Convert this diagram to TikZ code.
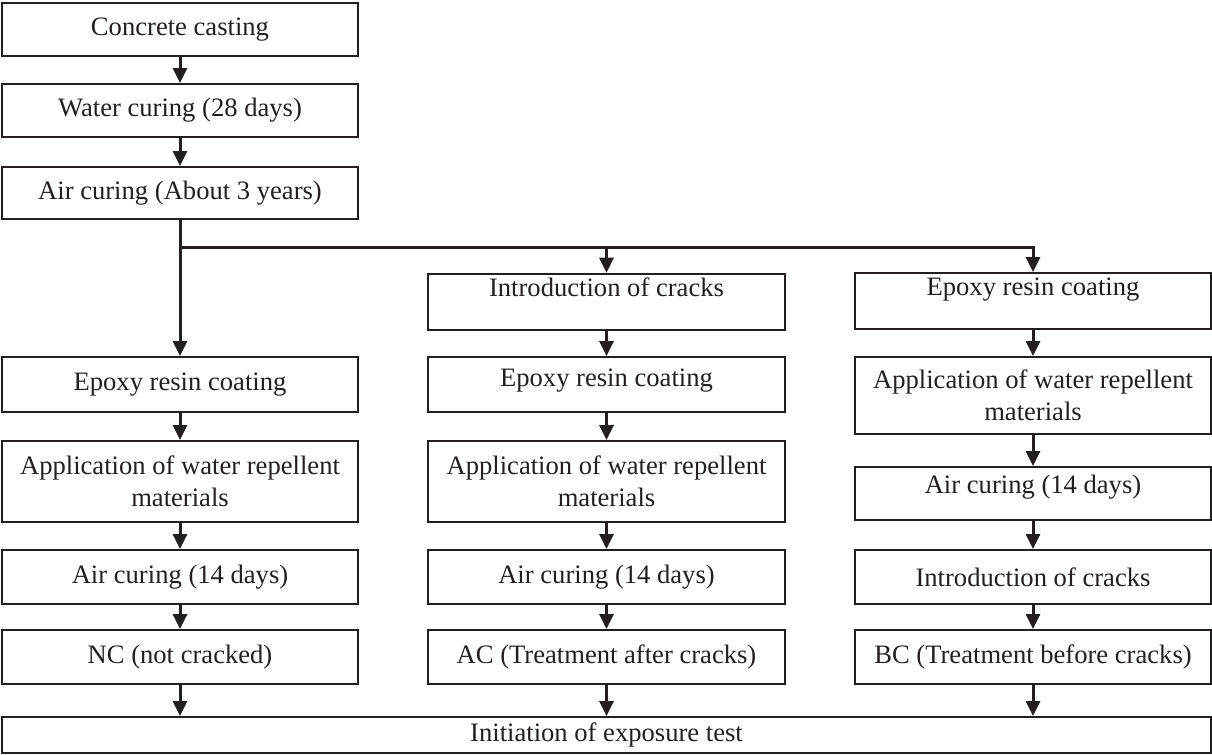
\documentclass[tikz,border=0pt]{standalone}
\usepackage{fontspec}
\setmainfont{Liberation Serif}
\usetikzlibrary{arrows.meta}
\definecolor{ink}{RGB}{35,31,32}
\tikzset{
	box/.style={draw=ink, line width=0.9pt, text=ink, align=center, inner sep=2pt,
		minimum width=178pt, font=\fontsize{13.3}{16}\selectfont},
	raised/.style={text depth=#1},
	flow/.style={draw=ink, line width=1.5pt, -{Triangle[length=7.5pt,width=7pt]}},
}

\begin{document}
\begin{tikzpicture}[x=0.5pt, y=-0.5pt]
			%%%%% START %%%%%
			\useasboundingbox (0, 0) rectangle (1212, 755);
			
			% common steps
			\node[box, minimum height=26.5pt] (cast) at (180, 29.5) {Concrete casting};
			\node[box, minimum height=26.5pt] (water) at (180, 110.5) {Water curing (28 days)};
			\node[box, minimum height=26pt] (aircure) at (180, 193) {Air curing (About 3 years)};
			\coordinate (split) at (180, 247);
			
			% NC series
			\node[box, minimum height=27.5pt] (epoxyA) at (180, 384.5) {Epoxy resin coating};
			\node[box, minimum height=40.5pt] (applyA) at (180, 481.5) {Application of water repellent\\materials};
			\node[box, minimum height=27pt] (airA) at (180, 577) {Air curing (14 days)};
			\node[box, minimum height=27pt] (nc) at (180, 657) {NC (not cracked)};
			
			% AC series
			\node[box, minimum width=178.5pt, minimum height=27pt, raised=15pt] (crackB) at (606.5, 302) {Introduction of cracks};
			\node[box, minimum width=178.5pt, minimum height=27.5pt, raised=7pt] (epoxyB) at (606.5, 384.5) {Epoxy resin coating};
			\node[box, minimum width=178.5pt, minimum height=40.5pt] (applyB) at (606.5, 481.5) {Application of water repellent\\materials};
			\node[box, minimum width=178.5pt, minimum height=27pt] (airB) at (606.5, 577) {Air curing (14 days)};
			\node[box, minimum width=178.5pt, minimum height=27pt] (ac) at (606.5, 657) {AC (Treatment after cracks)};
			
			% BC series
			\node[box, minimum height=28pt, raised=14pt] (epoxyC) at (1033, 301) {Epoxy resin coating};
			\node[box, minimum height=38.5pt] (applyC) at (1033, 395.5) {Application of water repellent\\materials};
			\node[box, minimum height=26.5pt, raised=9pt] (airC) at (1033, 493.5) {Air curing (14 days)};
			\node[box, minimum height=27pt] (crackC) at (1033, 577) {Introduction of cracks};
			\node[box, minimum height=27pt] (bc) at (1033, 657) {BC (Treatment before cracks)};
			
			\node[box, minimum width=604.5pt, minimum height=18pt] (test) at (606.5, 735) {Initiation of exposure test};
			
			% connectors
			\draw[flow] (cast) -- (water);
			\draw[flow] (water) -- (aircure);
			\draw[flow] (aircure) -- (epoxyA);
			\draw[flow] (split) -| (epoxyC);
			\draw[flow] (split -| crackB) -- (crackB);
			
			\draw[flow] (epoxyA) -- (applyA);
			\draw[flow] (applyA) -- (airA);
			\draw[flow] (airA) -- (nc);
			
			\draw[flow] (crackB) -- (epoxyB);
			\draw[flow] (epoxyB) -- (applyB);
			\draw[flow] (applyB) -- (airB);
			\draw[flow] (airB) -- (ac);
			
			\draw[flow] (epoxyC) -- (applyC);
			\draw[flow] (applyC) -- (airC);
			\draw[flow] (airC) -- (crackC);
			\draw[flow] (crackC) -- (bc);
			
			\draw[flow] (nc) -- (nc |- test.north);
			\draw[flow] (ac) -- (ac |- test.north);
			\draw[flow] (bc) -- (bc |- test.north);
			%%%%% END %%%%%
\end{tikzpicture}
\end{document}
